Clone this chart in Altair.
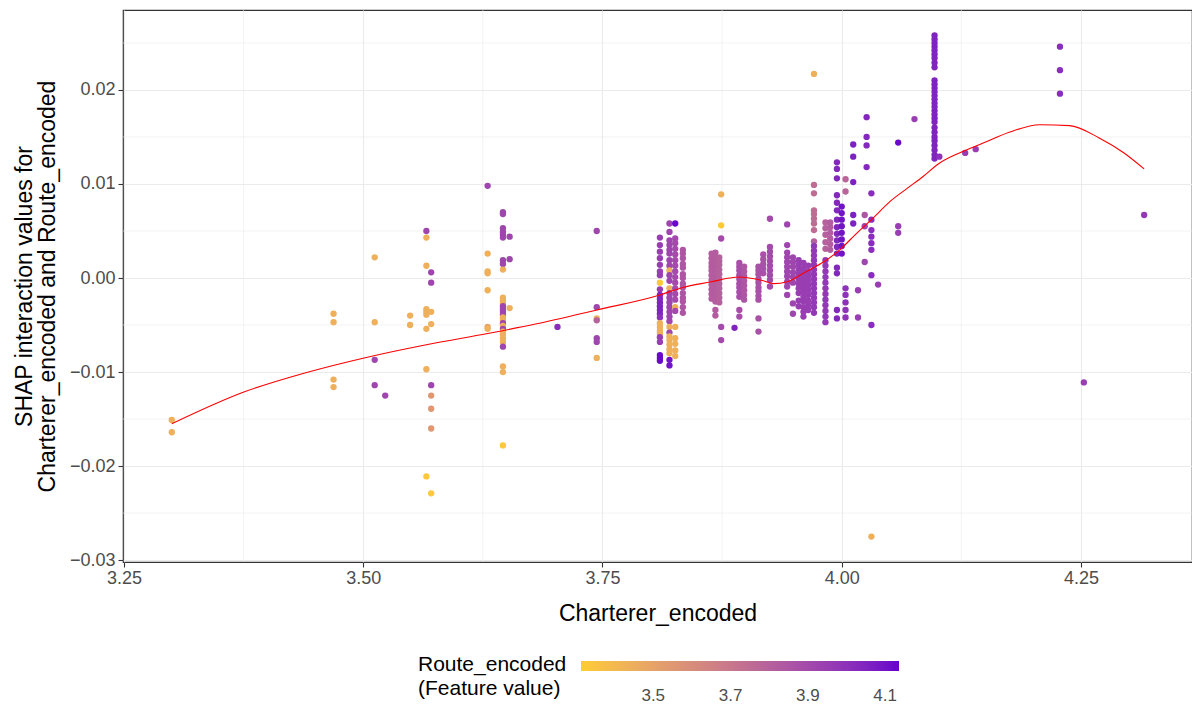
import altair as alt
import pandas as pd

# ---- data ----
column_x = [3.300, 3.469, 3.512, 3.523, 3.549, 3.566, 3.571, 3.630, 3.646, 3.653,
            3.703, 3.744, 3.810, 3.820, 3.826, 3.834, 3.864, 3.868, 3.872, 3.874,
            3.888, 3.893, 3.898, 3.913, 3.918, 3.925, 3.943, 3.949, 3.955, 3.960,
            3.965, 3.971, 3.983, 3.988, 3.995, 4.000, 4.004, 4.012, 4.017, 4.024,
            4.026, 4.031, 4.038, 4.059, 4.076, 4.097, 4.102, 4.129, 4.140, 4.228,
            4.253, 4.316]

column_shap = [
    [-0.0151, -0.0164],
    [-0.0038, -0.0047, -0.0108, -0.0116],
    [0.0022, -0.0047, -0.0087, -0.0114],
    [-0.0125],
    [-0.0040, -0.0050],
    [0.0050, 0.0043, 0.0013, -0.0033, -0.0036, -0.0039, -0.0054, -0.0097, -0.0211],
    [0.0006, -0.0005, -0.0036, -0.0049, -0.0114, -0.0125, -0.0139, -0.0160, -0.0229],
    [0.0098, 0.0026, 0.0007, 0.0005, -0.0013, -0.0052, -0.0054],
    [0.0070, 0.0068, 0.0053, 0.0049, 0.0046, 0.0043, 0.0019, 0.0015, 0.0009,
     -0.0021, -0.0024, -0.0027, -0.0030, -0.0033, -0.0036, -0.0039, -0.0042, -0.0045,
     -0.0048, -0.0051, -0.0054, -0.0057, -0.0060, -0.0064, -0.0068, -0.0073, -0.0094,
     -0.0100, -0.0178],
    [0.0044, 0.0020, -0.0032],
    [-0.0052],
    [0.0050, -0.0031, -0.0043, -0.0045, -0.0064, -0.0068, -0.0085],
    [0.0043, 0.0035, 0.0028, 0.0021, 0.0014, 0.0007, 0.0003, -0.0005, -0.0012, -0.0018,
     -0.0022, -0.0026, -0.0030, -0.0034, -0.0038, -0.0042, -0.0048, -0.0052, -0.0056,
     -0.0059, -0.0063, -0.0068, -0.0082, -0.0085, -0.0088],
    [0.0058, 0.0049, 0.0040, 0.0035, 0.0030, 0.0026, 0.0019, 0.0013, 0.0008, 0.0003,
     -0.0003, -0.0011, -0.0016, -0.0021, -0.0026, -0.0031, -0.0036, -0.0041, -0.0046,
     -0.0052, -0.0058, -0.0062, -0.0066, -0.0071, -0.0076, -0.0080, -0.0087, -0.0093],
    [0.0058, 0.0042, 0.0037, 0.0031, 0.0025, 0.0019, 0.0013, 0.0007, 0.0001, -0.0005,
     -0.0011, -0.0017, -0.0023, -0.0031, -0.0035, -0.0052, -0.0064, -0.0070, -0.0077,
     -0.0083],
    [0.0030, 0.0026, 0.0021, 0.0015, 0.0011, 0.0004, 0.0000, -0.0006, -0.0010, -0.0016,
     -0.0021, -0.0025, -0.0031, -0.0037],
    [0.0026, 0.0021, 0.0016, 0.0012, 0.0008, 0.0003, -0.0002, -0.0007, -0.0012, -0.0017,
     -0.0022],
    [0.0027, 0.0022, 0.0017, 0.0013, 0.0009, 0.0004, -0.0001, -0.0005, -0.0010, -0.0015,
     -0.0020, -0.0025, -0.0034, -0.0040],
    [0.0022, 0.0018, 0.0014, 0.0009, 0.0004, -0.0001, -0.0006, -0.0011, -0.0016, -0.0021,
     -0.0026],
    [0.0089, 0.0056, 0.0042, -0.0052, -0.0066],
    [-0.0053],
    [0.0016, 0.0012, 0.0008, 0.0003, -0.0001, -0.0006, -0.0010, -0.0015, -0.0020, -0.0034,
     -0.0041],
    [0.0012, 0.0007, 0.0002, -0.0003, -0.0008, -0.0013, -0.0018, -0.0023],
    [0.0012, 0.0008, 0.0004, -0.0001, -0.0005, -0.0010, -0.0014, -0.0019, -0.0023, -0.0043,
     -0.0057],
    [0.0025, 0.0020, 0.0015, 0.0010, 0.0005],
    [0.0063, 0.0033, 0.0028, 0.0023, 0.0018, 0.0013, 0.0008, 0.0003, -0.0002, -0.0009],
    [0.0057, 0.0035, 0.0027, 0.0022, 0.0017, 0.0012, 0.0007, 0.0002, -0.0004, -0.0009,
     -0.0018],
    [0.0022, 0.0017, 0.0012, 0.0006, 0.0001, -0.0005, -0.0027, -0.0038],
    [0.0019, 0.0014, 0.0009, 0.0004, -0.0001, -0.0006, -0.0011, -0.0016, -0.0024, -0.0030],
    [0.0016, 0.0010, 0.0005, 0.0000, -0.0005, -0.0010, -0.0015, -0.0020, -0.0025, -0.0031,
     -0.0036, -0.0041],
    [0.0013, 0.0007, 0.0002, -0.0003, -0.0008, -0.0013, -0.0018, -0.0024, -0.0029, -0.0034],
    [0.0217, 0.0099, 0.0090, 0.0072, 0.0068, 0.0063, 0.0058, 0.0051, 0.0039, 0.0034,
     0.0029, 0.0024, 0.0019, 0.0014, 0.0009, 0.0004, -0.0001, -0.0006, -0.0011, -0.0016,
     -0.0021, -0.0026, -0.0031, -0.0037],
    [0.0059, 0.0053, 0.0046, 0.0038, 0.0031, 0.0019, 0.0013, 0.0007, 0.0001, -0.0005,
     -0.0011, -0.0017, -0.0023, -0.0029, -0.0035, -0.0041, -0.0047],
    [0.0059, 0.0054, 0.0048, 0.0042, 0.0036, 0.0030],
    [0.0123, 0.0116, 0.0106, 0.0088, 0.0080, 0.0072, 0.0062, 0.0054, 0.0047, 0.0040,
     0.0033, 0.0026, 0.0011, 0.0005, -0.0034, -0.0043],
    [0.0076, 0.0069, 0.0062, 0.0055, 0.0048, 0.0041, 0.0034, 0.0026],
    [0.0105, 0.0092, -0.0011, -0.0018, -0.0026, -0.0034, -0.0042],
    [0.0142, 0.0129, 0.0102, 0.0067, 0.0058],
    [-0.0013, -0.0042],
    [0.0067, 0.0055, 0.0017],
    [0.0171, 0.0150, 0.0141, 0.0118],
    [0.0090, 0.0062, 0.0051, 0.0044, 0.0037, 0.0030, 0.0003, -0.0050, -0.0275],
    [-0.0007],
    [0.0144, 0.0055, 0.0048],
    [0.0169],
    [0.0258, 0.0254, 0.0250, 0.0246, 0.0242, 0.0238, 0.0234, 0.0229, 0.0224, 0.0210,
     0.0206, 0.0202, 0.0198, 0.0194, 0.0190, 0.0186, 0.0182, 0.0178, 0.0174, 0.0170,
     0.0166, 0.0160, 0.0155, 0.0150, 0.0146, 0.0141, 0.0136, 0.0131, 0.0127],
    [0.0129],
    [0.0133],
    [0.0137],
    [0.0246, 0.0221, 0.0196],
    [-0.0111],
    [0.0067],
]

column_route = [
    [3.44, 3.44],
    [3.44, 3.44, 3.44, 3.44],
    [3.44, 3.44, 3.92, 3.92],
    [3.92],
    [3.44, 3.44],
    [3.92, 3.44, 3.44, 3.44, 3.44, 3.44, 3.44, 3.44, 3.33],
    [3.92, 3.92, 3.44, 3.44, 3.92, 3.55, 3.55, 3.55, 3.33],
    [3.92, 3.44, 3.44, 3.44, 3.44, 3.50, 3.44],
    [3.92, 3.92, 3.92, 3.92, 3.92, 3.92, 3.92, 3.92, 3.44,
     3.44, 3.44, 3.44, 3.92, 3.92, 3.92, 3.92, 3.44, 3.44,
     3.92, 3.44, 3.92, 3.44, 3.44, 3.44, 3.44, 3.92, 3.44,
     3.44, 3.33],
    [3.92, 3.92, 3.44],
    [4.02],
    [3.92, 3.92, 3.44, 3.80, 3.92, 3.92, 3.44],
    [3.95, 3.95, 3.95, 3.95, 3.95, 3.95, 3.95, 3.33, 3.95, 4.05,
     4.05, 4.05, 4.05, 4.05, 4.05, 4.00, 3.44, 3.44, 3.44,
     3.44, 3.95, 3.95, 4.12, 4.12, 4.12],
    [3.92, 3.92, 3.92, 3.92, 3.92, 3.92, 3.92, 3.92, 3.44, 3.92,
     3.92, 3.44, 3.92, 3.92, 3.92, 3.92, 3.92, 3.92, 3.92,
     3.44, 3.92, 3.44, 3.44, 3.44, 3.44, 3.44, 4.10, 4.10],
    [4.12, 3.90, 3.90, 3.90, 3.90, 3.90, 3.90, 3.90, 3.90, 3.90,
     3.90, 3.90, 3.90, 3.44, 3.90, 3.44, 3.44, 3.44, 3.44,
     3.44],
    [3.85, 3.85, 3.85, 3.85, 3.85, 3.85, 3.85, 3.85, 3.85, 3.85,
     3.85, 3.85, 3.85, 3.85],
    [3.82, 3.82, 3.82, 3.82, 3.82, 3.82, 3.82, 3.82, 3.82, 3.82,
     3.82],
    [3.82, 3.82, 3.82, 3.82, 3.82, 3.82, 3.82, 3.82, 3.82, 3.82,
     3.82, 3.82, 3.82, 3.82],
    [3.80, 3.80, 3.80, 3.80, 3.80, 3.80, 3.80, 3.80, 3.80, 3.80,
     3.80],
    [3.44, 3.33, 3.90, 3.90, 3.90],
    [4.05],
    [3.88, 3.88, 3.88, 3.88, 3.88, 3.88, 3.88, 3.88, 3.88, 3.88,
     3.88],
    [3.85, 3.85, 3.85, 3.85, 3.85, 3.85, 3.85, 3.85],
    [3.87, 3.87, 3.87, 3.87, 3.87, 3.87, 3.87, 3.87, 3.87, 3.87,
     3.87],
    [3.87, 3.87, 3.87, 3.87, 3.87],
    [3.90, 3.90, 3.90, 3.90, 3.90, 3.90, 3.90, 3.90, 3.90, 3.90],
    [3.92, 3.92, 3.92, 3.92, 3.92, 3.92, 3.92, 3.92, 3.92, 3.92,
     3.92],
    [3.92, 3.92, 3.92, 3.92, 3.92, 3.92, 3.92, 3.92],
    [3.95, 3.95, 3.95, 3.95, 3.95, 3.95, 3.95, 3.95, 3.95, 3.95],
    [3.95, 3.95, 3.95, 3.95, 3.95, 3.95, 3.95, 3.95, 3.95, 3.95,
     3.95, 3.95],
    [3.95, 3.95, 3.95, 3.95, 3.95, 3.95, 3.95, 3.95, 3.95, 3.95],
    [3.44, 3.75, 3.75, 3.75, 3.75, 3.75, 3.75, 3.75, 3.80, 3.97,
     3.97, 3.97, 3.97, 3.97, 3.97, 3.97, 3.97, 3.97, 3.97, 3.97,
     3.97, 3.97, 3.97, 3.97],
    [3.80, 3.80, 3.80, 3.80, 3.80, 3.97, 3.97, 3.97, 3.97, 3.97,
     3.97, 3.97, 3.97, 3.97, 3.97, 3.97, 3.97],
    [3.82, 3.82, 3.82, 3.82, 3.82, 3.82],
    [4.04, 4.04, 4.04, 4.04, 4.04, 4.04, 4.04, 4.04, 4.04, 4.04,
     4.04, 4.04, 4.04, 4.04, 4.04, 4.04],
    [4.10, 4.10, 4.10, 4.10, 4.10, 4.10, 4.10, 4.10],
    [3.78, 3.78, 4.00, 4.00, 4.00, 4.00, 4.00],
    [4.06, 4.06, 4.06, 4.06, 4.06],
    [3.95, 3.95],
    [3.85, 3.92, 3.92],
    [4.04, 4.04, 4.04, 4.04],
    [4.02, 4.02, 4.02, 4.02, 4.02, 4.02, 4.02, 4.02, 3.44],
    [3.95],
    [4.12, 3.95, 3.95],
    [3.95],
    [4.05, 4.05, 4.05, 4.05, 4.05, 4.05, 4.05, 4.05, 4.05, 4.05,
     4.05, 4.05, 4.05, 4.05, 4.05, 4.05, 4.05, 4.05, 4.05, 4.05,
     4.05, 4.05, 4.05, 4.05, 4.05, 4.05, 4.05, 4.05, 4.05],
    [4.00],
    [3.95],
    [3.95],
    [4.02, 4.02, 4.02],
    [3.95],
    [3.97],
]

# loess smoother
smooth_x = [3.300, 3.376, 3.439, 3.501, 3.566, 3.630, 3.680, 3.744, 3.810, 3.834,
            3.864, 3.883, 3.892, 3.918, 3.929, 3.943, 3.963, 3.981, 3.998, 4.015,
            4.033, 4.050, 4.068, 4.085, 4.102, 4.123, 4.149, 4.175, 4.207, 4.238,
            4.269, 4.295, 4.316]
smooth_y = [-0.0155, -0.0121, -0.0101, -0.0085, -0.0071, -0.0059, -0.0049, -0.0034,
            -0.0018, -0.0010, -0.0004, 0.0000, 0.0001, -0.0003, -0.0006, -0.0004,
            0.0007, 0.0017, 0.0030, 0.0047, 0.0064, 0.0081, 0.0095, 0.0108, 0.0122,
            0.0133, 0.0144, 0.0155, 0.0163, 0.0162, 0.0149, 0.0133, 0.0116]

x_ticks = [3.25, 3.5, 3.75, 4.0, 4.25]
x_minor = [3.375, 3.625, 3.875, 4.125]
y_ticks = [-0.03, -0.02, -0.01, 0.0, 0.01, 0.02]
y_minor = [-0.025, -0.015, -0.005, 0.005, 0.015, 0.025]
legend_ticks = [3.5, 3.7, 3.9, 4.1]

# ---- build tables ----
rows = []
for cx, ys, cs in zip(column_x, column_shap, column_route):
    for yv, cv in zip(ys, cs):
        rows.append({"Charterer_encoded": cx, "shap": yv, "Route_encoded": cv})
points_df = pd.DataFrame(rows)
smooth_df = pd.DataFrame({"Charterer_encoded": smooth_x, "shap": smooth_y})

FONT = "Liberation Sans"
GRID = "#EBEBEB"

x_scale = alt.Scale(domain=[3.249, 4.366], nice=False, zero=False)
y_scale = alt.Scale(domain=[-0.0302, 0.0285], nice=False, zero=False)

x_axis = alt.Axis(values=x_ticks, format=".2f", title="Charterer_encoded",
                  grid=True, gridColor=GRID, gridWidth=1.1, domain=False,
                  tickColor="#333333", tickSize=5, tickWidth=1.1,
                  labelFont=FONT, labelFontSize=18, labelColor="#4D4D4D",
                  labelPadding=2, labelFlush=False,
                  titleFont=FONT, titleFontSize=23, titleFontWeight="normal",
                  titleColor="#000000", titlePadding=15)
y_axis = alt.Axis(values=y_ticks, format=".2f",
                  title=["SHAP interaction values for", "Charterer_encoded and Route_encoded"],
                  grid=True, gridColor=GRID, gridWidth=1.1, domain=False,
                  tickColor="#333333", tickSize=5, tickWidth=1.1,
                  labelFont=FONT, labelFontSize=18, labelColor="#4D4D4D",
                  labelPadding=3, labelFlush=False,
                  titleFont=FONT, titleFontSize=23, titleFontWeight="normal",
                  titleColor="#000000", titlePadding=10, titleLineHeight=23)

minor_v = alt.Chart(pd.DataFrame({"Charterer_encoded": x_minor})).mark_rule(
    color=GRID, strokeWidth=0.6
).encode(x=alt.X("Charterer_encoded:Q", scale=x_scale, axis=x_axis))

minor_h = alt.Chart(pd.DataFrame({"shap": y_minor})).mark_rule(
    color=GRID, strokeWidth=0.6
).encode(y=alt.Y("shap:Q", scale=y_scale, axis=y_axis))

points = alt.Chart(points_df).mark_circle(size=40, opacity=1).encode(
    x=alt.X("Charterer_encoded:Q", scale=x_scale, axis=x_axis),
    y=alt.Y("shap:Q", scale=y_scale, axis=y_axis),
    color=alt.Color(
        "Route_encoded:Q",
        scale=alt.Scale(domain=[3.313, 4.136], range=["#FFCC33", "#6600CC"],
                        interpolate="lab"),
        legend=alt.Legend(
            title=["Route_encoded", "(Feature value)"],
            orient="none", legendX=295, legendY=651,
            direction="horizontal", gradientLength=318, gradientThickness=10,
            gradientStrokeWidth=0, values=legend_ticks, format=".1f",
            titleOrient="left", titleFont=FONT, titleFontSize=21,
            titleFontWeight="normal", titleColor="#000000", titlePadding=14,
            titleBaseline="top", titleAlign="left", titleLineHeight=24,
            labelFont=FONT, labelFontSize=17, labelColor="#4D4D4D", labelOffset=17,
        ),
    ),
)

smooth = alt.Chart(smooth_df).mark_line(
    color="#FF0000", strokeWidth=1.1, interpolate="monotone"
).encode(
    x=alt.X("Charterer_encoded:Q", scale=x_scale, axis=x_axis),
    y=alt.Y("shap:Q", scale=y_scale, axis=y_axis),
)

chart = alt.layer(minor_v, minor_h, points, smooth).properties(
    width=1069, height=552,
    padding={"left": 123, "top": 10, "right": 0, "bottom": 148},
    autosize=alt.AutoSizeParams(type="none"),
    background="#FFFFFF",
).configure_view(stroke="#333333", strokeWidth=1.2)

chart.save("out.html", embed_options={"renderer": "svg", "actions": False})
